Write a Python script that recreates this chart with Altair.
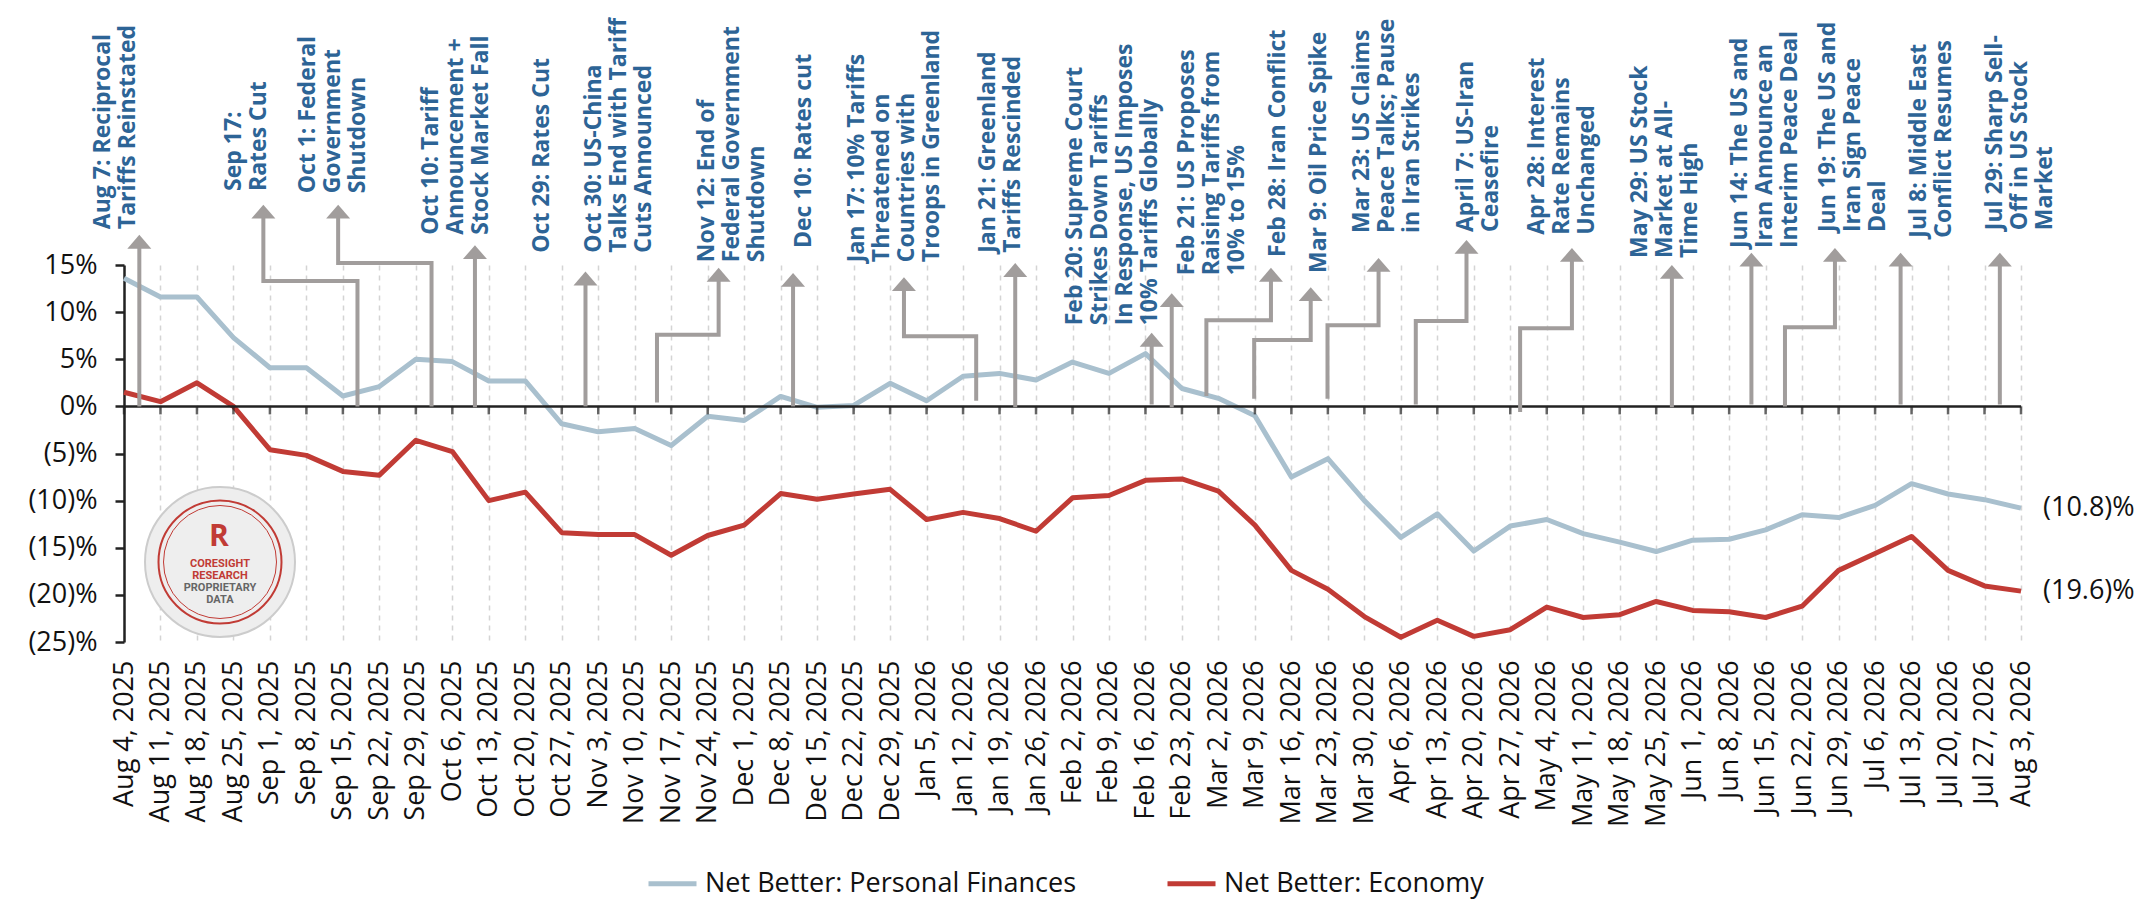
import json
import altair as alt
import pandas as pd

# weekly survey dates (x axis)
weeks = pd.date_range("2025-08-04", "2026-08-03", freq="7D")
week_labels = [f"{d:%b} {d.day}, {d.year}" for d in weeks]

personal = [13.6, 11.6, 11.6, 7.3, 4.1, 4.1, 1.1, 2.1, 5.0, 4.75, 2.7, 2.7, -1.85,
            -2.7, -2.35, -4.15, -1.05, -1.5, 1.06, -0.1, 0.1, 2.45, 0.6, 3.2, 3.5,
            2.8, 4.7, 3.5, 5.6, 1.9, 0.85, -1.0, -7.5, -5.55, -10.0, -13.9, -11.4,
            -15.35, -12.7, -12.0, -13.5, -14.4, -15.4, -14.2, -14.1, -13.1, -11.5,
            -11.8, -10.5, -8.2, -9.3, -9.9, -10.8]
economy = [1.5, 0.5, 2.5, 0.0, -4.6, -5.2, -6.9, -7.3, -3.6, -4.8, -10.0, -9.1, -13.4,
           -13.6, -13.6, -15.8, -13.7, -12.6, -9.25, -9.85, -9.3, -8.8, -12.0, -11.25,
           -11.9, -13.25, -9.7, -9.45, -7.85, -7.7, -9.0, -12.6, -17.4, -19.4, -22.3,
           -24.5, -22.7, -24.4, -23.7, -21.3, -22.4, -22.1, -20.7, -21.65, -21.8, -22.4,
           -21.2, -17.4, -15.6, -13.8, -17.4, -19.05, -19.6]

series_names = ["Net Better: Personal Finances", "Net Better: Economy"]
series_colors = ["#A9C0CE", "#C13B35"]

# event annotations: text, text anchor (week, %), arrow base, elbow, tip
event_text = [
    "Aug 7: Reciprocal\nTariffs Reinstated",
    "Sep 17:\nRates Cut",
    "Oct 1: Federal\nGovernment\nShutdown",
    "Oct 10: Tariff\nAnnouncement +\nStock Market Fall",
    "Oct 29: Rates Cut",
    "Oct 30: US-China\nTalks End with Tariff\nCuts Announced",
    "Nov 12: End of\nFederal Government\nShutdown",
    "Dec 10: Rates cut",
    "Jan 17: 10% Tariffs\nThreatened on\nCountries with\nTroops in Greenland",
    "Jan 21: Greenland\nTariffs Rescinded",
    "Feb 20: Supreme Court\nStrikes Down Tariffs\nIn Response, US Imposes\n10% Tariffs Globally",
    "Feb 21: US Proposes\nRaising Tariffs from\n10% to 15%",
    "Feb 28: Iran Conflict",
    "Mar 9: Oil Price Spike",
    "Mar 23: US Claims\nPeace Talks; Pause\nin Iran Strikes",
    "April 7: US-Iran\nCeasefire",
    "Apr 28: Interest\nRate Remains\nUnchanged",
    "May 29: US Stock\nMarket at All-\nTime High",
    "Jun 14: The US and\nIran Announce an\nInterim Peace Deal",
    "Jun 19: The US and\nIran Sign Peace\nDeal",
    "Jul 8: Middle East\nConflict Resumes",
    "Jul 29: Sharp Sell-\nOff in US Stock\nMarket",
]
text_x = [-0.89, 2.71, 4.74, 8.11, 11.16, 12.58, 15.68, 18.34, 19.79, 23.38, 25.77,
          28.84, 31.33, 32.46, 33.63, 36.49, 38.43, 41.26, 44.0, 46.41, 48.9, 50.99]
text_y = [18.8, 22.85, 22.6, 18.2, 16.3, 16.3, 15.3, 16.8, 15.3, 16.3, 8.6,
          13.9, 15.85, 14.15, 18.4, 18.5, 18.2, 15.75, 16.8, 18.5, 17.9, 18.7]

arrow_base_x = [0.42, 6.40, 8.43, 9.62, 12.65, 14.61, 18.34, 23.36, 24.43, 28.17, 28.72,
                29.67, 30.98, 32.99, 35.41, 38.27, 42.43, 44.61, 45.53, 48.7, 51.42]
arrow_base_y = [0, 0, 0, -0.1, 0, 0.4, 0, 0.6, -0.1, 0.2, -0.1,
                1.1, 0.8, 0.8, 0.2, -0.6, -0.1, 0.2, 0, 0.2, 0.2]
arrow_elbow_y = [None, 13.3, 15.2, None, None, 7.6, None, 7.45, None, None, None,
                 9.15, 7.05, 8.6, 9.05, 8.3, None, None, 8.4, None, None]
arrow_tip_x = [0.42, 3.82, 5.87, 9.62, 12.65, 16.3, 18.34, 21.38, 24.43, 28.17, 28.72,
               31.44, 32.53, 34.39, 36.8, 39.69, 42.43, 44.61, 46.9, 48.7, 51.42]
arrow_tip_y = [18.2, 21.4, 21.4, 17.1, 14.3, 14.7, 14.15, 13.7, 15.2, 7.8, 12.0,
               14.7, 12.65, 15.75, 17.65, 16.8, 15.0, 16.3, 16.8, 16.3, 16.3]

BLUE_TEXT = "#2D6496"
ARROW = "#A19D9C"
FONT = "Open Sans"

# ---- tables
lines_df = pd.DataFrame({
    "week": list(range(len(week_labels))) * 2,
    "value": personal + economy,
    "series": [series_names[0]] * len(personal) + [series_names[1]] * len(economy),
})

path_rows = []
for i, (bx, by, ey, tx, ty) in enumerate(zip(arrow_base_x, arrow_base_y, arrow_elbow_y,
                                             arrow_tip_x, arrow_tip_y)):
    pts = [(bx, by)]
    if ey is not None:
        pts += [(bx, ey), (tx, ey)]
    pts.append((tx, ty - 1.0))
    for j, (px, py) in enumerate(pts):
        path_rows.append({"id": i, "step": j, "week": px, "value": py})
paths_df = pd.DataFrame(path_rows)
heads_df = pd.DataFrame({"week": arrow_tip_x, "value": arrow_tip_y})
events_df = pd.DataFrame({"week": text_x, "value": text_y, "label": event_text})

end_df = pd.DataFrame({
    "week": [52, 52],
    "value": [personal[-1], economy[-1]],
    "label": [f"({abs(personal[-1]):.1f})%", f"({abs(economy[-1]):.1f})%"],
})
zero_df = pd.DataFrame({"week": [0], "week2": [52], "value": [0]})
ticks_df = pd.DataFrame({"week": list(range(len(week_labels))), "value": 0})

x_scale = alt.Scale(domain=[0, 52], nice=False, zero=False)
y_scale = alt.Scale(domain=[-25, 15], nice=False, zero=False)

x_axis = alt.Axis(
    values=list(range(len(week_labels))),
    labelExpr=f"{json.dumps(week_labels)}[datum.value]",
    labelAngle=270, labelAlign="right", labelBaseline="middle",
    labelFont=FONT, labelFontSize=27, labelColor="#111", labelPadding=18,
    labelOverlap=False, labelFlush=False, labelBound=False,
    ticks=False, domain=False, grid=True, gridDash=[5, 5],
    gridColor="#d4d4d4", gridWidth=1.5, title=None,
)
y_axis = alt.Axis(
    values=[-25, -20, -15, -10, -5, 0, 5, 10, 15],
    labelExpr="datum.value < 0 ? '(' + abs(datum.value) + ')%' : datum.value + '%'",
    labelFont=FONT, labelFontSize=27, labelColor="#111", labelPadding=18,
    domainColor="#222", domainWidth=2.5, tickColor="#222", tickSize=9, tickWidth=2.5,
    grid=False, title=None,
)


def X():
    return alt.X("week:Q", scale=x_scale, axis=x_axis)


def Y():
    return alt.Y("value:Q", scale=y_scale, axis=y_axis)


zero_line = alt.Chart(zero_df).mark_rule(color="#222", strokeWidth=2.5).encode(
    x=X(), x2="week2:Q", y=Y()
)
zero_ticks = alt.Chart(ticks_df).mark_tick(
    orient="vertical", size=8, thickness=2.5, yOffset=4, color="#222"
).encode(x=X(), y=Y())

logo_df = pd.DataFrame({"a": [0]})
logo = [
    alt.Chart(logo_df).mark_point(shape="circle", size=22500, filled=True, fill="#eeeeee",
                                  stroke="#cccccc", strokeWidth=2, opacity=1)
    .encode(x=alt.value(96), y=alt.value(297)),
    alt.Chart(logo_df).mark_point(shape="circle", size=15129, stroke="#C13B35",
                                  strokeWidth=2, opacity=1)
    .encode(x=alt.value(96), y=alt.value(297)),
    alt.Chart(logo_df).mark_point(shape="circle", size=12769, stroke="#C13B35",
                                  strokeWidth=1, opacity=1)
    .encode(x=alt.value(96), y=alt.value(297)),
    alt.Chart(logo_df).mark_text(text="R", font=FONT, fontSize=30, fontWeight="bold",
                                 color="#C13B35")
    .encode(x=alt.value(95), y=alt.value(272)),
    alt.Chart(logo_df).mark_text(text="CORESIGHT\nRESEARCH", lineBreak="\n", lineHeight=12,
                                 font="Roboto", fontSize=11, fontWeight="bold",
                                 color="#C13B35", baseline="middle")
    .encode(x=alt.value(96), y=alt.value(299)),
    alt.Chart(logo_df).mark_text(text="PROPRIETARY\nDATA", lineBreak="\n", lineHeight=12,
                                 font="Roboto", fontSize=11, fontWeight="bold",
                                 color="#666666", baseline="middle")
    .encode(x=alt.value(96), y=alt.value(323)),
]

series_lines = alt.Chart(lines_df).mark_line(strokeWidth=5, strokeJoin="round").encode(
    x=X(),
    y=Y(),
    color=alt.Color(
        "series:N",
        scale=alt.Scale(domain=series_names, range=series_colors),
        sort=series_names,
        legend=alt.Legend(
            orient="none", legendX=522, legendY=592, direction="horizontal",
            title=None, symbolType="stroke", symbolSize=2304, symbolStrokeWidth=5,
            labelFont=FONT, labelFontSize=27, labelColor="#111", labelOffset=6,
            columnPadding=80, labelLimit=600,
        ),
    ),
)

arrows = alt.Chart(paths_df).mark_line(
    color=ARROW, strokeWidth=4, strokeCap="butt", strokeJoin="miter"
).encode(x=X(), y=Y(), detail="id:N", order="step:Q")

heads = alt.Chart(heads_df).mark_point(
    shape="M-1,1.15L0,0L1,1.15Z", size=576, filled=True, color=ARROW, opacity=1,
    strokeWidth=0,
).encode(x=X(), y=Y())

events = alt.Chart(events_df).mark_text(
    angle=270, align="left", baseline="top", lineBreak="\n", lineHeight=25,
    font=FONT, fontSize=23, fontWeight="bold", color=BLUE_TEXT,
).encode(x=X(), y=Y(), text="label:N")

end_labels = alt.Chart(end_df).mark_text(
    align="left", baseline="middle", dx=22, font=FONT, fontSize=27, color="#111"
).encode(x=X(), y=Y(), text="label:N")

chart = (
    alt.layer(series_lines, zero_line, zero_ticks, *logo, arrows, heads, events, end_labels)
    .properties(
        width=1897, height=377,
        autosize=alt.AutoSizeParams(type="none"),
        padding={"left": 116, "top": 257, "right": 118, "bottom": 262},
        background="white",
    )
    .configure_view(stroke="transparent")
)

chart.save("out.html", embed_options={"renderer": "svg", "actions": False})
